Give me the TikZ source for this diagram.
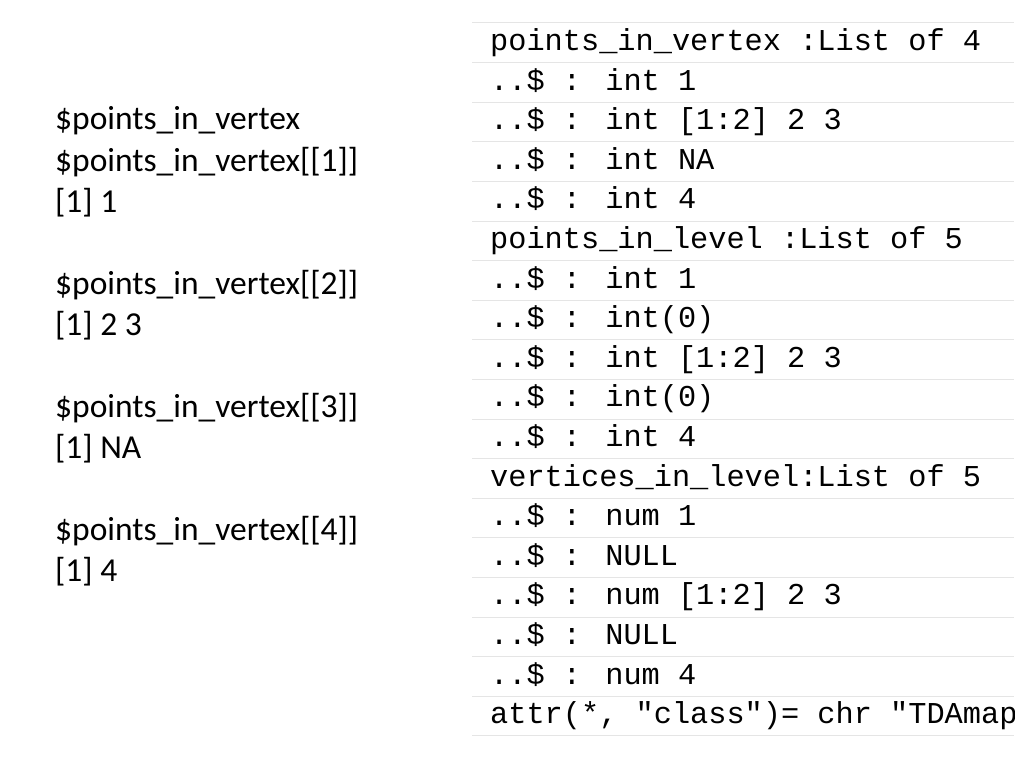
\documentclass[tikz,border=0pt]{standalone}
\usepackage{fontspec}
\setmainfont{Carlito}
\newfontfamily\codefont{Liberation Mono}
\begin{document}
\begin{tikzpicture}[x=1pt,y=-1pt,
  lefttxt/.style={anchor=west,inner sep=0pt,font=\fontsize{33.5}{33.5}\selectfont},
  code/.style={anchor=west,inner sep=0pt,text height=22pt,text depth=6pt,font=\codefont\fontsize{30.3}{30.3}\selectfont},
  sep/.style={draw=gray!20,line width=1pt}]
\useasboundingbox (0,0) rectangle (1024,768);
\foreach \t [count=\i] in {{\$points\_in\_vertex},{\$points\_in\_vertex[[1]]},{[1] 1},{},{\$points\_in\_vertex[[2]]},{[1] 2 3},{},{\$points\_in\_vertex[[3]]},{[1] NA},{},{\$points\_in\_vertex[[4]]},{[1] 4}}
  \node[lefttxt] (l\i) at (55,{123+41*(\i-1)}) {\strut\t};
\begin{scope}
\clip (472,0) rectangle (1014,768);
\foreach \i in {0,...,18} \draw[sep] (472,{23+39.6*\i}) -- (1014,{23+39.6*\i});
\foreach \t [count=\i] in {{points\_in\_vertex :List of 4},{..\$ : int 1},{..\$ : int [1:2] 2 3},{..\$ : int NA},{..\$ : int 4},{points\_in\_level :List of 5},{..\$ : int 1},{..\$ : int(0)},{..\$ : int [1:2] 2 3},{..\$ : int(0)},{..\$ : int 4},{vertices\_in\_level:List of 5},{..\$ : num 1},{..\$ : NULL},{..\$ : num [1:2] 2 3},{..\$ : NULL},{..\$ : num 4},{attr(*, "class")= chr "TDAmap"}}
  \node[code] (c\i) at (490,{42.5+39.6*(\i-1)}) {\t};
\end{scope}
\end{tikzpicture}
\end{document}
